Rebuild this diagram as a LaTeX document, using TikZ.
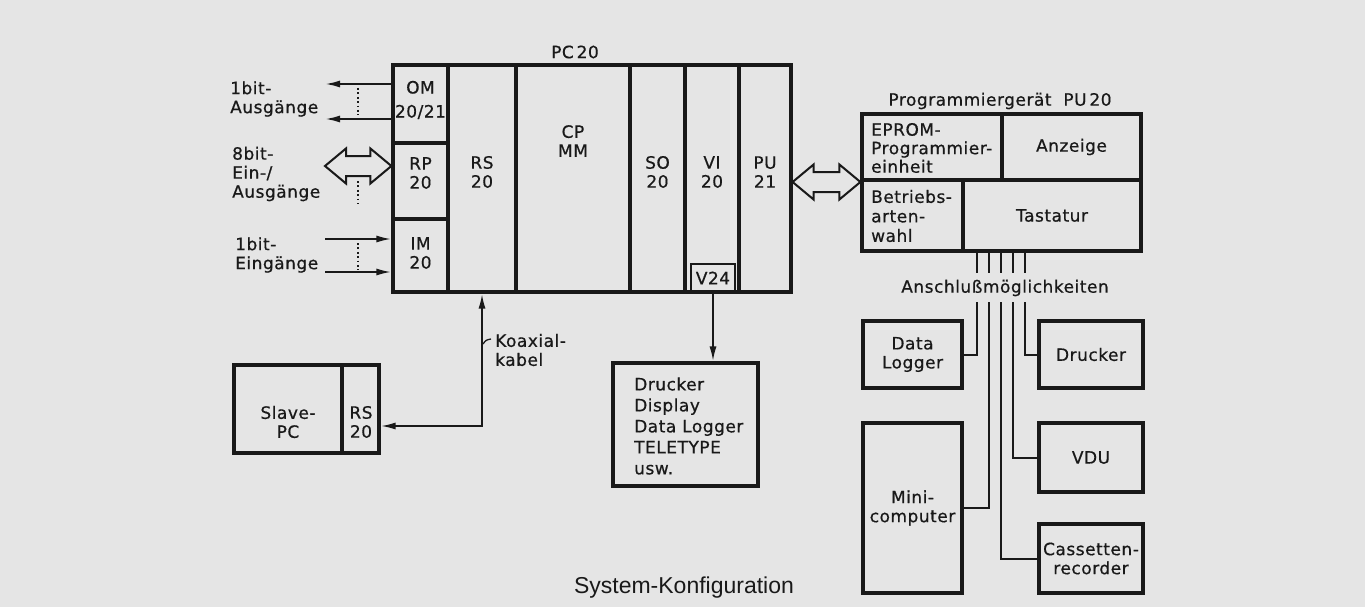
\documentclass[tikz,border=0pt]{standalone}
\usepackage{fontspec}
\newfontfamily\dv[LetterSpace=3,FakeBold=0.6]{DejaVu Sans}
\newfontfamily\lib{Liberation Sans}
\usetikzlibrary{arrows.meta,calc}
\definecolor{bg}{RGB}{229,229,229}
\definecolor{ink}{RGB}{25,25,25}
\newcommand\dfont{\dv\fontsize{17}{19}\selectfont}
\tikzset{
 box/.style={draw=ink, line width=3.2pt, inner sep=0pt, anchor=center},
 wire/.style={draw=ink, line width=2pt},
 tip/.style={-{Latex[length=15pt,width=7pt]}},
 lbl/.style={text=ink, font=\dfont, inner sep=0pt, align=center},
 lbll/.style={lbl, align=left, anchor=west},
 dots/.style={draw=ink, line width=1.8pt, dash pattern=on 1.8pt off 2.6pt},
 dbl/.style={draw=ink, line width=2pt, line join=miter}
}
\begin{document}
\begin{tikzpicture}[x=1pt,y=-1pt]
\fill[bg] (0,0) rectangle (1365,607);
\useasboundingbox (0,0) rectangle (1365,607);

% PC 20
\node[box, minimum width=398pt, minimum height=227pt] (pc) at (592,178.5) {};
\node[box, minimum width=55pt, minimum height=78pt] (om) at (420.5,104) {};
\node[box, minimum width=55pt, minimum height=76pt] (rp) at (420.5,181) {};
\node[box, minimum width=55pt, minimum height=73pt] (im) at (420.5,255.5) {};
\node[box, minimum width=68pt, minimum height=227pt] (rs) at (482,178.5) {};
\node[box, minimum width=114pt, minimum height=227pt] (cp) at (573,178.5) {};
\node[box, minimum width=55pt, minimum height=227pt] (so) at (657.5,178.5) {};
\node[box, minimum width=54pt, minimum height=227pt] (vi) at (712,178.5) {};
\node[box, minimum width=52pt, minimum height=227pt] (pu21) at (765,178.5) {};
\node[box, line width=1.8pt, minimum width=44pt, minimum height=28pt, lbl] (v24) at (713,278) {V24};

\node[lbl] (tpc) at (575,52) {PC\,20};
\node[lbl, font=\dv\fontsize{17}{24}\selectfont] (tom) at (420.5,100) {OM\\20/21};
\node[lbl] (trp) at (420.5,173) {RP\\20};
\node[lbl] (tim) at (420.5,253) {IM\\20};
\node[lbl] (trs) at (482,172) {RS\\20};
\node[lbl] (tcp) at (573,141) {CP\\MM};
\node[lbl] (tso) at (657.5,172) {SO\\20};
\node[lbl] (tvi) at (712,172) {VI\\20};
\node[lbl] (tpu21) at (765,172) {PU\\21};

% left I/O
\node[lbll] (tout) at (230,99) {1bit-\\Ausgänge};
\node[lbll] (tio) at (232,174) {8bit-\\Ein-/\\Ausgänge};
\node[lbll] (tin) at (235,255) {1bit-\\Eingänge};

\coordinate (o1) at (325,84);
\coordinate (o2) at (325,119);
\draw[wire,tip] (om.west |- o1) -- (o1);
\draw[wire,tip] (om.west |- o2) -- (o2);
\coordinate (i1) at (325,239);
\coordinate (i2) at (325,272);
\draw[wire,tip] (i1) -- (im.west |- i1);
\draw[wire,tip] (i2) -- (im.west |- i2);
\draw[dots] (358,88) -- (358,115);
\draw[dots] (358,181) -- (358,204);
\draw[dots] (358,243) -- (358,270);

% hollow double arrow left
\coordinate (r1) at (325,166);
\coordinate (r2) at (rp.west |- r1);
\draw[dbl] (r1) -- ++(21,-17.5) -- ++(0,7.5) -- ($(r2)+(-21,-10)$) -- ++(0,-7.5) -- (r2)
  -- ++(-21,17.5) -- ++(0,-7.5) -- ($(r1)+(21,10)$) -- ++(0,7.5) -- cycle;

% Programmiergeraet
\node[box, minimum width=279pt, minimum height=137pt] (pu) at (1001.5,182.5) {};
\node[box, minimum width=140pt, minimum height=66pt] (ep) at (932,147) {};
\node[box, minimum width=139pt, minimum height=66pt, lbl] (anz) at (1071.5,147) {Anzeige};
\node[box, minimum width=101pt, minimum height=71pt] (bw) at (912.5,215.5) {};
\node[box, minimum width=178pt, minimum height=71pt, lbl] (tas) at (1052,215.5) {Tastatur};
\node[lbl] (tpu) at (1000,101) {Programmiergerät\ \ PU\,20};
\node[lbll, font=\dv\fontsize{17}{18.5}\selectfont] (tep) at (871,148) {EPROM-\\Programmier-\\einheit};
\node[lbll, font=\dv\fontsize{17}{19.5}\selectfont] (tbw) at (871,216) {Betriebs-\\arten-\\wahl};

% right hollow double arrow
\coordinate (q0) at (0,182);
\coordinate (q1) at (pc.east |- q0);
\coordinate (q2) at (pu.west |- q0);
\draw[dbl] (q1) -- ++(21,-17.5) -- ++(0,7.5) -- ($(q2)+(-21,-10)$) -- ++(0,-7.5) -- (q2)
  -- ++(-21,17.5) -- ++(0,-7.5) -- ($(q1)+(21,10)$) -- ++(0,7.5) -- cycle;

% Anschluss
\node[lbl] (tan) at (1005,288) {Anschlußmöglichkeiten};
\node[box, minimum width=99pt, minimum height=67pt, lbl] (dl) at (912.5,354.5) {Data\\Logger};
\node[box, minimum width=104pt, minimum height=67pt, lbl] (dru) at (1091,354.5) {Drucker};
\node[box, minimum width=104pt, minimum height=69pt, lbl] (vdu) at (1091,457.5) {VDU};
\node[box, minimum width=99pt, minimum height=170pt, lbl] (mini) at (912.5,508) {Mini-\\computer};
\node[box, minimum width=104pt, minimum height=69pt, lbl] (cas) at (1091,558.5) {Cassetten-\\recorder};

\foreach \n/\x in {1/977,2/989,3/1001,4/1013,5/1025}{
  \coordinate (t\n) at (\x,273);
  \coordinate (a\n) at (\x,302);
  \draw[wire] (pu.south -| t\n) -- (t\n);
}
\draw[wire] (a1) |- (dl);
\draw[wire] (a2) |- (mini);
\draw[wire] (a3) |- (cas);
\draw[wire] (a4) |- (vdu);
\draw[wire] (a5) |- (dru);

% Slave PC
\node[box, minimum width=145pt, minimum height=88pt] (sl) at (306.5,409) {};
\node[box, minimum width=37pt, minimum height=88pt] (slrs) at (360.5,409) {};
\node[lbl] (tsl) at (288,422) {Slave-\\PC};
\node[lbl] (tslrs) at (361,422) {RS\\20};
\coordinate (k) at (482,426);
\draw[wire, {Latex[length=15pt,width=7pt]}-{Latex[length=15pt,width=7pt]}] (slrs.east |- k) -- (k) -- (rs.south);
\draw[ink, line width=1.3pt] (483,344) .. controls (486,340) .. (491,339);
\node[lbll] (tko) at (495,350) {Koaxial-\\kabel};

% Drucker box
\node[box, minimum width=145pt, minimum height=123pt] (db) at (685.5,424.5) {};
\node[lbll, font=\dv\fontsize{17}{21}\selectfont] (tdb) at (634,426) {Drucker\\Display\\Data Logger\\TELETYPE\\usw.};
\draw[wire,tip] (v24.south) -- (v24.south |- db.north);

\node[text=ink, font=\lib\fontsize{23}{26}\selectfont, inner sep=0pt] (title) at (684,588) {System-Konfiguration};
\end{tikzpicture}
\end{document}
